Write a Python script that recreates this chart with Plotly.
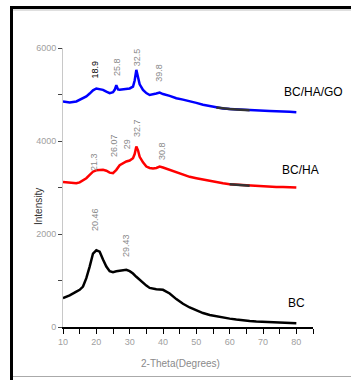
import plotly.graph_objects as go

# 2-theta values and intensities
bc_x = [10, 12, 14, 15, 16, 17, 18, 19, 20, 21, 22, 23, 24, 25, 26, 27, 28, 29, 30, 31, 32, 33, 34, 35, 36, 38, 40, 42, 44, 46, 48, 50, 52, 54, 56, 58, 60, 62, 64, 66, 68, 70, 72, 74, 76, 78, 80]
bc_y = [620, 680, 760, 800, 870, 1050, 1300, 1580, 1650, 1620, 1450, 1300, 1200, 1180, 1200, 1210, 1230, 1230, 1200, 1150, 1080, 1010, 950, 890, 840, 810, 800, 720, 600, 500, 420, 360, 300, 260, 230, 200, 180, 160, 140, 130, 120, 115, 110, 105, 100, 90, 80]

ha_x = [10, 12, 14, 15, 16, 17, 18, 19, 20, 21, 22, 23, 24, 25, 26, 27, 28, 29, 30, 31, 31.5, 32, 32.5, 33, 34, 35, 36, 37, 38, 39, 40, 42, 44, 46, 48, 50, 52, 54, 56, 58, 60, 62, 64, 66, 68, 70, 72, 74, 76, 78, 80]
ha_y = [3120, 3100, 3090, 3110, 3150, 3200, 3270, 3340, 3370, 3380, 3380, 3360, 3320, 3310, 3380, 3480, 3520, 3560, 3580, 3630, 3720, 3880, 3800, 3660, 3540, 3450, 3420, 3410, 3420, 3450, 3430, 3380, 3320, 3270, 3230, 3200, 3170, 3140, 3110, 3090, 3070, 3060, 3050, 3040, 3030, 3020, 3020, 3010, 3010, 3000, 3000]

go_x = [10, 12, 14, 16, 17, 18, 19, 20, 21, 22, 23, 24, 25, 25.5, 26, 26.5, 27, 28, 29, 30, 31, 31.5, 32, 32.5, 33, 34, 35, 36, 37, 38, 39, 40, 42, 44, 46, 48, 50, 52, 54, 56, 58, 60, 62, 64, 66, 68, 70, 72, 74, 76, 78, 80]
go_y = [4850, 4830, 4850, 4920, 4960, 5020, 5090, 5130, 5120, 5100, 5060, 5030, 5050, 5100, 5200, 5110, 5100, 5110, 5120, 5130, 5170, 5300, 5530, 5380, 5220, 5100, 5030, 4990, 5000, 5020, 5040, 5010, 4970, 4920, 4890, 4860, 4820, 4780, 4750, 4720, 4700, 4690, 4680, 4670, 4660, 4650, 4650, 4645, 4640, 4640, 4630, 4620]

# peak labels
go_labels = ["18.9", "25.8", "32.5", "39.8"]
go_lab_x = [19.6, 26.2, 32.2, 38.7]
go_lab_y = [5540, 5590, 5800, 5460]
ha_labels = ["21.3", "26.07", "29", "32.7", "30.8"]
ha_lab_x = [19.3, 25.3, 29.2, 32.2, 39.9]
ha_lab_y = [3550, 3890, 3930, 4280, 3780]
bc_labels = ["20.46", "29.43"]
bc_lab_x = [19.6, 28.9]
bc_lab_y = [2300, 1740]

series_names = ["BC/HA/GO", "BC/HA", "BC"]

fig = go.Figure()
fig.add_trace(go.Scatter(x=bc_x, y=bc_y, mode="lines", line=dict(color="black", width=2.5)))
fig.add_trace(go.Scatter(x=ha_x, y=ha_y, mode="lines", line=dict(color="#ff0000", width=2.5)))
fig.add_trace(go.Scatter(x=go_x, y=go_y, mode="lines", line=dict(color="#0000ff", width=2.5)))

# dark overlay segments seen on the tails
ha_dk = [(a, b) for a, b in zip(ha_x, ha_y) if 60 <= a <= 67]
go_dk = [(a, b) for a, b in zip(go_x, go_y) if 55 <= a <= 67]
fig.add_trace(go.Scatter(x=[p[0] for p in ha_dk], y=[p[1] for p in ha_dk], mode="lines", line=dict(color="#333333", width=2.5)))
fig.add_trace(go.Scatter(x=[p[0] for p in go_dk], y=[p[1] for p in go_dk], mode="lines", line=dict(color="#333333", width=2.5)))

ann = []
lab_font = dict(family="Liberation Sans Narrow, Liberation Sans, Arial", size=9, color="#8a8a8a")
for t, x, y in zip(go_labels, go_lab_x, go_lab_y):
    f = dict(lab_font)
    if t == "18.9":
        f = dict(family="Liberation Sans, Arial", size=9, color="black")
    ann.append(dict(x=x, y=y, text=t, showarrow=False, textangle=-90, font=f))
for t, x, y in zip(ha_labels, ha_lab_x, ha_lab_y):
    ann.append(dict(x=x, y=y, text=t, showarrow=False, textangle=-90, font=lab_font))
for t, x, y in zip(bc_labels, bc_lab_x, bc_lab_y):
    ann.append(dict(x=x, y=y, text=t, showarrow=False, textangle=-90, font=lab_font))

name_font = dict(family="Liberation Sans, Arial", size=12, color="black")
ann.append(dict(x=1.0, y=5050, xref="paper", yref="y", text=series_names[0], showarrow=False, xanchor="center", font=name_font))
ann.append(dict(x=0.95, y=3370, xref="paper", yref="y", text=series_names[1], showarrow=False, xanchor="center", font=name_font))
ann.append(dict(x=0.935, y=520, xref="paper", yref="y", text=series_names[2], showarrow=False, xanchor="center", font=name_font))

ann.append(dict(x=0.47, y=-0.105, xref="paper", yref="paper", text="2-Theta(Degrees)", showarrow=False, yanchor="top",
                font=dict(family="Liberation Sans Narrow, Liberation Sans, Arial", size=10, color="#8a8a8a")))
ann.append(dict(x=-0.13, y=0.43, xref="paper", yref="paper", text="Intensity", showarrow=False, textangle=-90,
                font=dict(family="Liberation Sans Narrow, Liberation Sans, Arial", size=10, color="#333333")))

L, R = 63, 351 - 313.5
T, B = 48, 380 - 327
pw, ph = 250.5, 279.0
def px_x(p):
    return (p - L) / pw
def px_y(p):
    return (327 - p) / ph

# page frame: thick black top and left borders, thin grey rules
shapes = [
    dict(type="rect", xref="paper", yref="paper", x0=px_x(10), x1=px_x(352), y0=px_y(9), y1=px_y(6), fillcolor="black", line=dict(width=0)),
    dict(type="rect", xref="paper", yref="paper", x0=px_x(12), x1=px_x(352), y0=px_y(10.5), y1=px_y(9.5), fillcolor="#c0c0c0", line=dict(width=0)),
    dict(type="rect", xref="paper", yref="paper", x0=px_x(10), x1=px_x(12.5), y0=px_y(380), y1=px_y(6), fillcolor="black", line=dict(width=0)),
    dict(type="rect", xref="paper", yref="paper", x0=px_x(12), x1=px_x(352), y0=px_y(377), y1=px_y(376), fillcolor="#aaaaaa", line=dict(width=0)),
]

tick_font = dict(family="Liberation Sans Narrow, Liberation Sans, Arial", size=9, color="#a0a0a0")
fig.update_layout(
    width=351, height=380,
    margin=dict(l=L, r=R, t=T, b=B),
    paper_bgcolor="white", plot_bgcolor="white",
    showlegend=False,
    annotations=ann,
    shapes=shapes,
    xaxis=dict(range=[10, 85], tickvals=[10, 20, 30, 40, 50, 60, 70, 80], showgrid=False, zeroline=False,
               showline=True, linecolor="black", linewidth=1.5, ticks="outside", ticklen=5, tickcolor="black",
               minor=dict(dtick=5, tick0=10, ticks="outside", ticklen=5, tickcolor="black"),
               tickfont=tick_font),
    yaxis=dict(range=[0, 6000], tickvals=[0, 2000, 4000, 6000], showgrid=False, zeroline=False,
               showline=True, linecolor="#c8c8c8", linewidth=1, ticks="outside", ticklen=4, tickcolor="#444",
               minor=dict(dtick=1000, ticks="outside", ticklen=4, tickcolor="#444"),
               tickfont=tick_font),
)

fig.write_html("out.html", config={"displayModeBar": False})

# remove the default page margin so the figure fills the window exactly,
# and keep the page frame on top of everything
frame = (
    '<div style="position:fixed;left:10px;top:6px;width:341px;height:3px;background:#000;z-index:9999;pointer-events:none"></div>'
    '<div style="position:fixed;left:10px;top:6px;width:3px;height:374px;background:#000;z-index:9999;pointer-events:none"></div>'
)
with open("out.html", "r", encoding="utf-8") as fh:
    html = fh.read()
html = html.replace("<head>", "<head><style>html,body{margin:0;padding:0;overflow:hidden;}</style>", 1)
html = html.replace("</body>", frame + "</body>", 1)
with open("out.html", "w", encoding="utf-8") as fh:
    fh.write(html)
